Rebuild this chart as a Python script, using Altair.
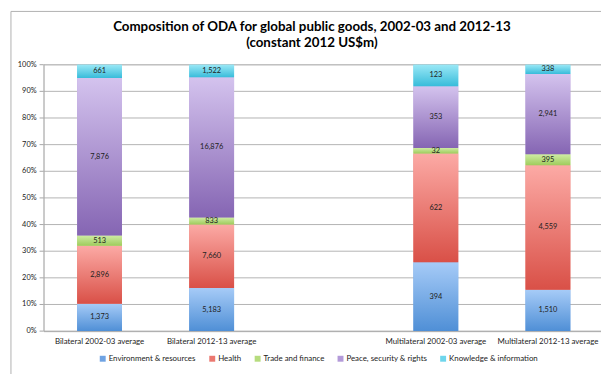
import altair as alt
import pandas as pd

groups = ["Bilateral 2002-03 average", "Bilateral 2012-13 average",
          "Multilateral 2002-03 average", "Multilateral 2012-13 average"]
x_domain = groups[:2] + [" "] + groups[2:]
sectors = ["Environment & resources", "Health", "Trade and finance",
           "Peace, security & rights", "Knowledge & information"]
env = [1373, 5183, 394, 1510]
health = [2896, 7660, 622, 4559]
trade = [513, 833, 32, 395]
peace = [7876, 16876, 353, 2941]
knowledge = [661, 1522, 123, 338]
series = [env, health, trade, peace, knowledge]
y_ticks = [0, 0.1, 0.2, 0.3, 0.4, 0.5, 0.6, 0.7, 0.8, 0.9, 1.0]
title_lines = ["Composition of ODA for global public goods, 2002-03 and 2012-13",
               "(constant 2012 US$m)"]

solid = ["#6fa3e3", "#eb7870", "#b6dc7e", "#b39ad9", "#6fd6ec"]
grad_top = ["#a6cbf7", "#fcaaa5", "#cfeba4", "#d4c3ee", "#9ae8f6"]
grad_bot = ["#4f8fd6", "#d95047", "#9fcc5c", "#8565b3", "#38bcda"]

rows = []
for si, (s, vals) in enumerate(zip(sectors, series)):
    for g, v in zip(groups, vals):
        rows.append({"group": g, "sector": s, "order": si, "value": v})
df = pd.DataFrame(rows)
ticks_df = pd.DataFrame({"t": y_ticks})

FONT = "Lato"
AXIS_GRAY = "#a6a6a6"

x_enc = alt.X("group:N",
              scale=alt.Scale(domain=x_domain, range=[0, 568],
                              paddingInner=0.6, paddingOuter=0.3),
              axis=alt.Axis(title=None, labelAngle=0, ticks=False, grid=False,
                            domainColor=AXIS_GRAY, labelFont=FONT,
                            labelFontSize=8, labelColor="#222222",
                            labelPadding=7))
y_scale = alt.Scale(domain=[0, 1], nice=False)

# y axis built from the tick list through the y scale
grid = alt.Chart(ticks_df).mark_rule(color="#b3b3b3", strokeWidth=1).encode(
    y=alt.Y("t:Q", scale=y_scale, axis=None),
    x=alt.value(0), x2=alt.value(570))
tick_marks = alt.Chart(ticks_df).mark_rule(color=AXIS_GRAY, strokeWidth=1).encode(
    y=alt.Y("t:Q", scale=y_scale, axis=None),
    x=alt.value(-4), x2=alt.value(0))
tick_labels = alt.Chart(ticks_df).mark_text(
    font=FONT, fontSize=7.5, color="#222222", align="right",
    baseline="middle", dx=-7).encode(
    y=alt.Y("t:Q", scale=y_scale, axis=None),
    x=alt.value(0), text=alt.Text("t:Q", format=".0%"))
y_domain_line = alt.Chart(ticks_df).mark_rule(color=AXIS_GRAY, strokeWidth=1).encode(
    y=alt.Y("min(t):Q", scale=y_scale, axis=None),
    y2="max(t):Q", x=alt.value(0.5))

base = alt.Chart(df).transform_joinaggregate(
    total="sum(value)", groupby=["group"]
).transform_calculate(
    pct="datum.value / datum.total"
).transform_stack(
    stack="pct", groupby=["group"], as_=["y0", "y1"],
    sort=[alt.SortField("order", order="ascending")]
).transform_calculate(
    ymid="(datum.y0 + datum.y1) / 2"
)

y_enc = alt.Y("y0:Q", scale=y_scale, axis=None)

solid_layer = base.mark_bar().encode(
    x=x_enc, y=y_enc, y2="y1:Q",
    color=alt.Color("sector:N",
                    scale=alt.Scale(domain=sectors, range=solid),
                    legend=alt.Legend(title=None, orient="none",
                                      legendX=56, legendY=294,
                                      direction="horizontal",
                                      symbolType="square", symbolSize=36,
                                      symbolStrokeWidth=0,
                                      labelFont=FONT, labelFontSize=8,
                                      labelColor="#222222",
                                      columnPadding=12, labelOffset=2)),
)

layers = [grid, tick_marks, tick_labels, y_domain_line, solid_layer]
for s, t, b in zip(sectors, grad_top, grad_bot):
    grad = alt.LinearGradient(
        gradient="linear",
        stops=[alt.GradientStop(color=t, offset=0),
               alt.GradientStop(color=b, offset=1)],
        x1=0, x2=0, y1=0, y2=1)
    layers.append(
        base.transform_filter(alt.datum.sector == s)
        .mark_bar(fill=grad)
        .encode(x=x_enc, y=y_enc, y2="y1:Q")
    )

labels = base.mark_text(font=FONT, fontSize=7.5, color="#222222",
                        baseline="middle").encode(
    x=x_enc, y=alt.Y("ymid:Q", scale=y_scale, axis=None),
    text=alt.Text("value:Q", format=",")
)
layers.append(labels)

one = pd.DataFrame({"a": [0]})
frame_left = alt.Chart(one).mark_rule(color="#b0b0b0", strokeWidth=1).encode(
    x=alt.value(-33), y=alt.value(-54), y2=alt.value(320))
frame_top = alt.Chart(one).mark_rule(color="#b0b0b0", strokeWidth=1).encode(
    x=alt.value(-33), x2=alt.value(600), y=alt.value(-54))
title1 = alt.Chart(one).mark_text(
    text=title_lines[0], font=FONT, fontSize=13.5, fontWeight="bold",
    color="#000000", align="center", baseline="alphabetic").encode(
    x=alt.value(272), y=alt.value(-34))
title2 = alt.Chart(one).mark_text(
    text=title_lines[1], font=FONT, fontSize=13.5, fontWeight="bold",
    color="#000000", align="center", baseline="alphabetic").encode(
    x=alt.value(272), y=alt.value(-18))
layers += [frame_left, frame_top, title1, title2]

chart = alt.layer(*layers).properties(
    width=565, height=270,
    autosize=alt.AutoSizeParams(type="none"),
    padding={"left": 36, "top": 55, "right": 0, "bottom": 41},
).configure_view(stroke=None).configure(background="white")

chart.save("out.html", embed_options={"renderer": "svg", "actions": False})
